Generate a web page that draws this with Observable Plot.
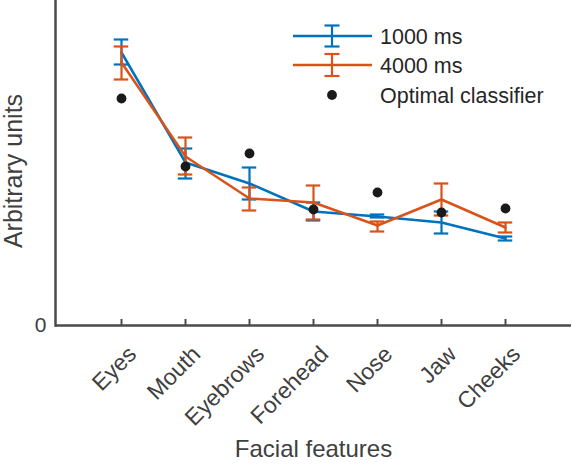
<!DOCTYPE html>
<html>
<head>
<meta charset="utf-8">
<script src="https://cdn.jsdelivr.net/npm/d3@7"></script>
<script src="https://cdn.jsdelivr.net/npm/@observablehq/plot@0.6"></script>
<style>
  html, body { margin: 0; padding: 0; background: #fff; }
  #wrap { position: relative; width: 572px; height: 467px; }
  #legend { position: absolute; left: 0; top: 0; }
</style>
</head>
<body>
<div id="wrap"></div>
<script>
const features = ["Eyes", "Mouth", "Eyebrows", "Forehead", "Nose", "Jaw", "Cheeks"];
// 1000 ms condition
const mean1000 = [2.73, 1.63, 1.42, 1.14, 1.09, 1.03, 0.87];
const hi1000   = [2.86, 1.77, 1.58, 1.23, 1.11, 1.14, 0.89];
const lo1000   = [2.61, 1.47, 1.26, 1.05, 1.08, 0.92, 0.85];
// 4000 ms condition
const mean4000 = [2.63, 1.69, 1.27, 1.23, 1.00, 1.26, 0.98];
const hi4000   = [2.79, 1.88, 1.38, 1.40, 1.04, 1.42, 1.03];
const lo4000   = [2.46, 1.51, 1.15, 1.06, 0.94, 1.10, 0.93];
// Optimal classifier
const optimal  = [2.27, 1.59, 1.72, 1.16, 1.33, 1.13, 1.17];
const seriesNames = ["1000 ms", "4000 ms", "Optimal classifier"];
const yTicks = [0];

const blue = "#0072BD", orange = "#D95319", dark = "#1a1a1a", axisCol = "#4a4a4a", textCol = "#404040";
const font = "Liberation Sans, Arial, Helvetica, sans-serif";

const d1000 = features.map((f, i) => ({f, m: mean1000[i], hi: hi1000[i], lo: lo1000[i]}));
const d4000 = features.map((f, i) => ({f, m: mean4000[i], hi: hi4000[i], lo: lo4000[i]}));
const dOpt = features.map((f, i) => ({f, v: optimal[i]}));

const capInset = (64.5 - 15) / 2;
function errMarks(data, color) {
  return [
    Plot.ruleX(data, {x: "f", y1: "lo", y2: "hi", stroke: color, strokeWidth: 2.2}),
    Plot.tickY(data, {x: "f", y: "hi", stroke: color, strokeWidth: 2.2, insetLeft: capInset, insetRight: capInset}),
    Plot.tickY(data, {x: "f", y: "lo", stroke: color, strokeWidth: 2.2, insetLeft: capInset, insetRight: capInset}),
    Plot.line(data, {x: "f", y: "m", stroke: color, strokeWidth: 2.5})
  ];
}

const chart = Plot.plot({
  width: 572,
  height: 467,
  marginLeft: 55,
  marginRight: 1,
  marginTop: 0,
  marginBottom: 142,
  style: {fontFamily: font, background: "#fff", overflow: "visible"},
  x: {type: "band", domain: features, paddingInner: 0, paddingOuter: 0.5, axis: null},
  y: {domain: [0, 3.25]},
  marks: [
    Plot.axisY({ticks: yTicks, tickFormat: d => String(d), tickSize: 0, tickPadding: 9, fontSize: 21, color: textCol, label: null}),
    Plot.text(features, {x: d => d, frameAnchor: "bottom", rotate: -45, textAnchor: "end", lineAnchor: "middle", dx: 11, dy: 25, fontSize: 23, fill: textCol}),
    Plot.ruleX(features, {x: d => d, stroke: axisCol, strokeWidth: 2, insetTop: 319}),
    ...errMarks(d1000, blue),
    ...errMarks(d4000, orange),
    Plot.dot(dOpt, {x: "f", y: "v", r: 4.9, fill: dark, stroke: "none"}),
    Plot.ruleY([0], {stroke: axisCol, strokeWidth: 2.5}),
    Plot.frame({anchor: "left", stroke: axisCol, strokeWidth: 2.5}),
    Plot.text(["Arbitrary units"], {frameAnchor: "left", rotate: -90, textAnchor: "middle", dx: -42, dy: 8, fontSize: 25, fill: textCol, lineAnchor: "middle"}),
    Plot.text(["Facial features"], {frameAnchor: "bottom", dy: 124, fontSize: 24, fill: textCol, lineAnchor: "middle"})
  ]
});

const wrap = document.getElementById("wrap");
wrap.appendChild(chart);

// Legend overlay
const leg = d3.select(wrap).append("svg").attr("id", "legend").attr("width", 572).attr("height", 120)
  .style("font-family", font);
const rows = [
  {name: seriesNames[0], color: blue, type: "err", y: 36, h: 10.5},
  {name: seriesNames[1], color: orange, type: "err", y: 65, h: 11},
  {name: seriesNames[2], color: dark, type: "dot", y: 95}
];
const lx1 = 293, lx2 = 372, lxc = 332;
rows.forEach(r => {
  const g = leg.append("g");
  if (r.type === "err") {
    g.append("line").attr("x1", lx1).attr("x2", lx2).attr("y1", r.y).attr("y2", r.y).attr("stroke", r.color).attr("stroke-width", 2.5);
    g.append("line").attr("x1", lxc).attr("x2", lxc).attr("y1", r.y - r.h).attr("y2", r.y + r.h).attr("stroke", r.color).attr("stroke-width", 2.2);
    [r.y - r.h, r.y + r.h].forEach(yy => g.append("line").attr("x1", lxc - 7.5).attr("x2", lxc + 7.5).attr("y1", yy).attr("y2", yy).attr("stroke", r.color).attr("stroke-width", 2.2));
  } else {
    g.append("circle").attr("cx", lxc).attr("cy", r.y).attr("r", 4.9).attr("fill", r.color);
  }
  g.append("text").attr("x", 380).attr("y", r.y).attr("dy", "0.35em").attr("font-size", 21.5).attr("fill", "#262626").text(r.name);
});
</script>
</body>
</html>
